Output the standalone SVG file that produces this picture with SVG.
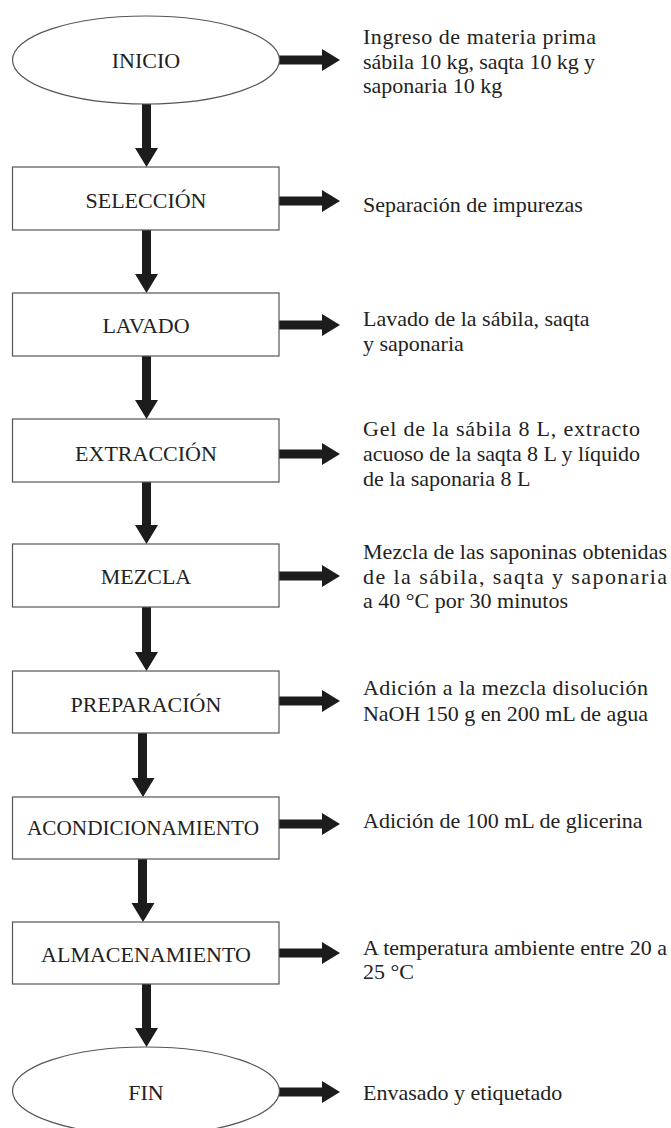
<svg xmlns="http://www.w3.org/2000/svg" width="671" height="1128" viewBox="0 0 671 1128">
<style>
.shape{fill:#ffffff;stroke:#555555;stroke-width:1.2}
.lbl{font-family:"Liberation Serif","Times New Roman",serif;font-size:22px;fill:#222222;text-anchor:middle}
.txt{font-family:"Liberation Serif","Times New Roman",serif;font-size:22px;fill:#222222}
.arr{fill:#1c1c1c}
</style>
<rect width="671" height="1128" fill="#ffffff"/>

<g id="connectors" class="arr">
  <!-- right arrows -->
  <path d="M279,55.5 H322 V49 L340,60 L322,71 V64.5 H279 Z"/>
  <path d="M279,196.5 H322 V190 L340,201 L322,212 V205.5 H279 Z"/>
  <path d="M279,320.5 H322 V314 L340,325 L322,336 V329.5 H279 Z"/>
  <path d="M279,449.5 H322 V443 L340,454 L322,465 V458.5 H279 Z"/>
  <path d="M279,571.5 H322 V565 L340,576 L322,587 V580.5 H279 Z"/>
  <path d="M279,696.5 H322 V690 L340,701 L322,712 V705.5 H279 Z"/>
  <path d="M279,819.5 H322 V813 L340,824 L322,835 V828.5 H279 Z"/>
  <path d="M279,948.5 H322 V942 L340,953 L322,964 V957.5 H279 Z"/>
  <path d="M279,1087.5 H322 V1081 L340,1092 L322,1103 V1096.5 H279 Z"/>
  <!-- down arrows -->
  <path d="M142,104 V148 H135 L146.5,167 L158,148 H151 V104 Z"/>
  <path d="M142,230 V274 H135 L146.5,293 L158,274 H151 V230 Z"/>
  <path d="M142,356 V400 H135 L146.5,419 L158,400 H151 V356 Z"/>
  <path d="M142,482 V525 H135 L146.5,544 L158,525 H151 V482 Z"/>
  <path d="M142,607 V652 H135 L146.5,671 L158,652 H151 V607 Z"/>
  <path d="M138,733 V778 H131.5 L143,797 L154.5,778 H147 V733 Z"/>
  <path d="M138,859 V903 H131.5 L143,922 L154.5,903 H147 V859 Z"/>
  <path d="M142,984 V1028 H135 L146.5,1047 L158,1028 H151 V984 Z"/>
</g>

<g id="inicio">
  <ellipse class="shape" cx="146" cy="60" rx="133.5" ry="44"/>
  <text class="lbl" x="146" y="68">INICIO</text>
</g>
<g id="seleccion">
  <rect class="shape" x="12.5" y="167" width="266.5" height="63"/>
  <text class="lbl" x="146" y="208">SELECCIÓN</text>
</g>
<g id="lavado">
  <rect class="shape" x="12.5" y="293" width="266.5" height="63"/>
  <text class="lbl" x="146" y="333">LAVADO</text>
</g>
<g id="extraccion">
  <rect class="shape" x="12.5" y="419" width="266.5" height="63"/>
  <text class="lbl" x="146" y="461">EXTRACCIÓN</text>
</g>
<g id="mezcla">
  <rect class="shape" x="12.5" y="544" width="266.5" height="63"/>
  <text class="lbl" x="146" y="584">MEZCLA</text>
</g>
<g id="preparacion">
  <rect class="shape" x="12.5" y="671" width="266.5" height="62"/>
  <text class="lbl" x="146" y="712">PREPARACIÓN</text>
</g>
<g id="acondicionamiento">
  <rect class="shape" x="12.5" y="797" width="266.5" height="62"/>
  <text class="lbl" x="143" y="835" textLength="232" lengthAdjust="spacingAndGlyphs">ACONDICIONAMIENTO</text>
</g>
<g id="almacenamiento">
  <rect class="shape" x="12.5" y="922" width="266.5" height="62"/>
  <text class="lbl" x="146" y="962">ALMACENAMIENTO</text>
</g>
<g id="fin">
  <ellipse class="shape" cx="146" cy="1091" rx="133.5" ry="44"/>
  <text class="lbl" x="146" y="1100">FIN</text>
</g>

<g id="notes">
  <text class="txt" x="363" y="44" textLength="233" lengthAdjust="spacing">Ingreso de materia prima</text>
  <text class="txt" x="363" y="68.5" textLength="232" lengthAdjust="spacing">sábila 10 kg, saqta 10 kg y</text>
  <text class="txt" x="363" y="93">saponaria 10 kg</text>

  <text class="txt" x="363" y="212">Separación de impurezas</text>

  <text class="txt" x="363" y="326">Lavado de la sábila, saqta</text>
  <text class="txt" x="363" y="351">y saponaria</text>

  <text class="txt" x="363" y="436" textLength="277" lengthAdjust="spacing">Gel de la sábila 8 L, extracto</text>
  <text class="txt" x="363" y="461" textLength="277" lengthAdjust="spacing">acuoso de la saqta 8 L y líquido</text>
  <text class="txt" x="363" y="486">de la saponaria 8 L</text>

  <text class="txt" x="363" y="559" textLength="304" lengthAdjust="spacing">Mezcla de las saponinas obtenidas</text>
  <text class="txt" x="363" y="583.5" textLength="304" lengthAdjust="spacing">de la sábila, saqta y saponaria</text>
  <text class="txt" x="363" y="608">a 40 °C por 30 minutos</text>

  <text class="txt" x="363" y="695" textLength="285" lengthAdjust="spacing">Adición a la mezcla disolución</text>
  <text class="txt" x="363" y="720.5" textLength="285" lengthAdjust="spacing">NaOH 150 g en 200 mL de agua</text>

  <text class="txt" x="363" y="828">Adición de 100 mL de glicerina</text>

  <text class="txt" x="363" y="955" textLength="304" lengthAdjust="spacing">A temperatura ambiente entre 20 a</text>
  <text class="txt" x="363" y="979">25 °C</text>

  <text class="txt" x="363" y="1100">Envasado y etiquetado</text>
</g>
</svg>
